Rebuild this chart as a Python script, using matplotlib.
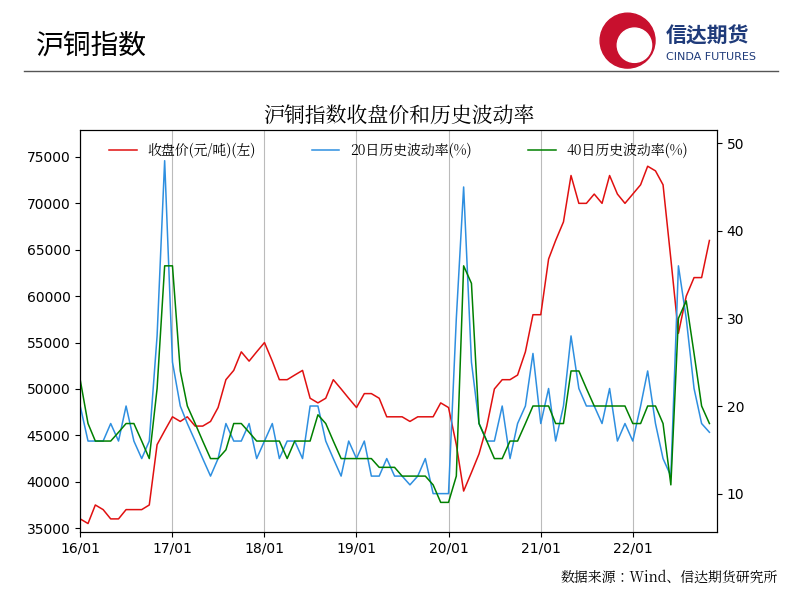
import matplotlib
matplotlib.use("Agg")
import matplotlib.pyplot as plt
import pandas as pd
from matplotlib.patches import Circle

SANS = 'Noto Sans CJK JP'
SERIF = 'Noto Serif CJK JP'
plt.rcParams['font.family'] = ['DejaVu Sans', SANS]

dates = pd.date_range("2016-01-01", periods=83, freq="MS")
price = [36000,35500,37500,37000,36000,36000,37000,37000,37000,37500,44000,45500,
         47000,46500,47000,46000,46000,46500,48000,51000,52000,54000,53000,54000,
         55000,53000,51000,51000,51500,52000,49000,48500,49000,51000,50000,49000,
         48000,49500,49500,49000,47000,47000,47000,46500,47000,47000,47000,48500,
         48000,44000,39000,41000,43000,46000,50000,51000,51000,51500,54000,58000,
         58000,64000,66000,68000,73000,70000,70000,71000,70000,73000,71000,70000,
         71000,72000,74000,73500,72000,64000,56000,60000,62000,62000,66000]
vol20 = [20,16,16,16,18,16,20,16,14,16,28,48,
         25,20,18,16,14,12,14,18,16,16,18,14,
         16,18,14,16,16,14,20,20,16,14,12,16,
         14,16,12,12,14,12,12,11,12,14,10,10,
         10,30,45,25,18,16,16,20,14,18,20,26,
         18,22,16,20,28,22,20,20,18,22,16,18,
         16,20,24,18,14,12,36,30,22,18,17]
vol40 = [23,18,16,16,16,17,18,18,16,14,22,36,
         36,24,20,18,16,14,14,15,18,18,17,16,
         16,16,16,14,16,16,16,19,18,16,14,14,
         14,14,14,13,13,13,12,12,12,12,11,9,
         9,12,36,34,18,16,14,14,16,16,18,20,
         20,20,18,18,24,24,22,20,20,20,20,20,
         18,18,20,20,18,11,30,32,26,20,18]
xticks = pd.to_datetime(["2016-01-01","2017-01-01","2018-01-01","2019-01-01","2020-01-01","2021-01-01","2022-01-01"])
xlabels = ["16/01","17/01","18/01","19/01","20/01","21/01","22/01"]

fig = plt.figure(figsize=(8.02,6.02), dpi=100)
fig.text(0.045, 0.925, "沪铜指数", fontsize=20, va='center', family=SANS)
fig.add_artist(plt.Line2D([0.03,0.97],[0.882,0.882], color='#555555', lw=1))
fig.text(0.83, 0.94, "信达期货", fontsize=15, color='#1f3b7a', weight='bold', va='center', family=SANS)
fig.text(0.83, 0.905, "CINDA FUTURES", fontsize=8, color='#1f3b7a', va='center')
lax = fig.add_axes([0.745, 0.885, 0.075, 0.095]); lax.set_aspect('equal'); lax.axis('off')
lax.add_patch(Circle((0.5,0.5),0.48,color='#c8102e')); lax.add_patch(Circle((0.62,0.42),0.3,color='white'))
lax.set_xlim(0,1); lax.set_ylim(0,1)
fig.text(0.97, 0.033, "数据来源：Wind、信达期货研究所", fontsize=10, ha='right', family=SERIF)

ax = fig.add_axes([0.1, 0.116, 0.794, 0.668])
ax.set_title("沪铜指数收盘价和历史波动率", fontsize=15, pad=6, family=SERIF)
l1, = ax.plot(dates, price, color='#e01010', lw=1.1, label="收盘价(元/吨)(左)")
ax.set_ylim(34570, 77900)
ax.set_xlim(pd.Timestamp("2016-01-01"), pd.Timestamp("2022-12-01"))
ax.set_xticks(xticks); ax.set_xticklabels(xlabels)
ax.grid(axis='x', color='#bbbbbb', lw=0.8)
ax2 = ax.twinx()
l2, = ax2.plot(dates, vol20, color='#2e8fe0', lw=1.1, label="20日历史波动率(%)")
l3, = ax2.plot(dates, vol40, color='#008000', lw=1.1, label="40日历史波动率(%)")
ax2.set_ylim(5.6, 51.5)
ax2.set_yticks([10,20,30,40,50])
ax2.legend(handles=[l1,l2,l3], loc='upper center', ncol=3, frameon=False, fontsize=10,
           columnspacing=4, prop={'family': SERIF, 'size': 10})
for a in (ax, ax2):
    a.tick_params(labelsize=10)
fig.savefig("out.png", dpi=100)
